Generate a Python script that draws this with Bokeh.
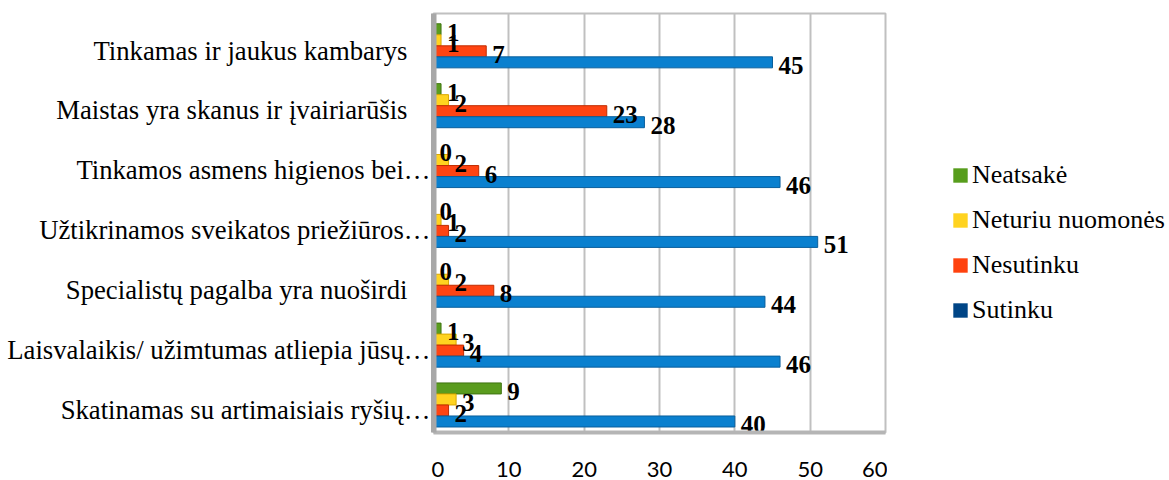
from bokeh.plotting import figure
from bokeh.layouts import row
from bokeh.models import ColumnDataSource, Range1d, FixedTicker, Legend, LegendItem
from bokeh.core.properties import value
from bokeh.embed import file_html
from bokeh.resources import INLINE

categories = [
    "Tinkamas ir jaukus kambarys",
    "Maistas yra skanus ir įvairiarūšis",
    "Tinkamos asmens higienos bei…",
    "Užtikrinamos sveikatos priežiūros…",
    "Specialistų pagalba yra nuoširdi",
    "Laisvalaikis/ užimtumas atliepia jūsų…",
    "Skatinamas su artimaisiais ryšių…",
]
series_names = ["Neatsakė", "Neturiu nuomonės", "Nesutinku", "Sutinku"]
neatsake = [1, 1, 0, 0, 0, 1, 9]
neturiu = [1, 2, 2, 1, 2, 3, 3]
nesutinku = [7, 23, 6, 2, 8, 4, 2]
sutinku = [45, 28, 46, 51, 44, 46, 40]
x_ticks = [0, 10, 20, 30, 40, 50, 60]

series_values = [neatsake, neturiu, nesutinku, sutinku]
bar_colors = ["#5a9c1e", "#ffd320", "#ff4412", "#0a80cf"]
edge_colors = ["#3f7410", "#d9a800", "#c02c00", "#0a5f9c"]
legend_colors = ["#579d1c", "#ffd320", "#ff420e", "#004586"]

n = len(categories)
centers = [n - i - 0.5 for i in range(n)]
bar_h = 0.184
slot_offsets = [1.5, 0.5, -0.5, -1.5]
group_shift = -0.04

FRAME_H = 419
TOP = 13
BOTTOM = 48

# ---------------- main chart ----------------
p = figure(frame_width=452, frame_height=FRAME_H, output_backend="svg", toolbar_location=None,
           x_range=Range1d(0, 60), y_range=Range1d(0, n),
           min_border_left=2, min_border_right=2, min_border_top=TOP, min_border_bottom=BOTTOM)
p.background_fill_color = "white"
p.border_fill_color = "white"
p.outline_line_color = "#c0c0c0"
p.outline_line_width = 2

p.xgrid.grid_line_color = "#c0c0c0"
p.xgrid.grid_line_width = 2
p.ygrid.grid_line_color = None

p.xaxis.ticker = FixedTicker(ticks=x_ticks)
p.xaxis.major_tick_line_color = None
p.xaxis.minor_tick_line_color = None
p.xaxis.axis_line_color = "#b5b5b5"
p.xaxis.axis_line_width = 4
p.xaxis.major_label_text_font = "Lato"
p.xaxis.major_label_text_font_size = "22px"
p.xaxis.major_label_text_color = "#000000"
p.xaxis.major_label_standoff = 23

p.yaxis.ticker = FixedTicker(ticks=[])
p.yaxis.major_tick_line_color = None
p.yaxis.minor_tick_line_color = None
p.yaxis.axis_line_color = "#a8a8a8"
p.yaxis.axis_line_width = 6
p.yaxis.major_label_text_font_size = "0px"
p.yaxis.major_label_standoff = 0

for k in range(4):
    ys = [c + slot_offsets[k] * bar_h + group_shift for c in centers]
    src = ColumnDataSource(dict(y=ys, right=series_values[k]))
    p.hbar(y="y", left=0, right="right", height=bar_h, source=src,
           fill_color=bar_colors[k], line_color=edge_colors[k], line_width=1)

for k in range(4):
    ys = [c + slot_offsets[k] * bar_h + group_shift for c in centers]
    vals = series_values[k]
    src = ColumnDataSource(dict(y=ys, x=vals, lab=[str(v) for v in vals]))
    p.text(x="x", y="y", text="lab", source=src, x_offset=6, y_offset=3,
           text_font=value("Liberation Serif"), text_font_style="bold",
           text_font_size="25px", text_color="#000000",
           text_align="left", text_baseline="middle")

# ---------------- category labels panel ----------------
lp = figure(frame_width=431, frame_height=FRAME_H, output_backend="svg", toolbar_location=None,
            x_range=Range1d(0, 1), y_range=p.y_range,
            min_border_left=0, min_border_right=0, min_border_top=TOP, min_border_bottom=BOTTOM)
lp.axis.visible = False
lp.grid.visible = False
lp.outline_line_color = None
lab_src = ColumnDataSource(dict(
    x=[1] * n,
    y=[c - 0.12 for c in centers],
    text=categories,
    off=[-1 if c.endswith("…") else -24 for c in categories],
))
lp.text(x="x", y="y", text="text", source=lab_src, x_offset="off",
        text_font=value("Liberation Serif"), text_font_size="26.7px",
        text_color="#000000", text_align="right", text_baseline="middle")

# ---------------- legend panel ----------------
gp = figure(frame_width=282, frame_height=480, output_backend="svg", toolbar_location=None,
            x_range=Range1d(0, 1), y_range=Range1d(0, 1),
            min_border_left=0, min_border_right=0, min_border_top=0, min_border_bottom=0)
gp.axis.visible = False
gp.grid.visible = False
gp.outline_line_color = None
items = []
for k in range(4):
    # off-screen swatch source, used only for the legend glyph
    dummy = gp.hbar(y=[5], left=[5], right=[6], height=0.1,
                    fill_color=legend_colors[k], line_color=None)
    items.append(LegendItem(label=series_names[k], renderers=[dummy]))
legend = Legend(items=items, location=(64, 155), orientation="vertical",
                padding=0, margin=0, spacing=15, glyph_width=18, glyph_height=18,
                label_height=30, label_standoff=3,
                label_text_font="Liberation Serif", label_text_font_size="26px",
                label_text_color="#000000",
                border_line_color=None, background_fill_alpha=0)
gp.add_layout(legend)

layout = row(lp, p, gp, spacing=0)
open("out.html", "w").write(file_html(layout, INLINE))
